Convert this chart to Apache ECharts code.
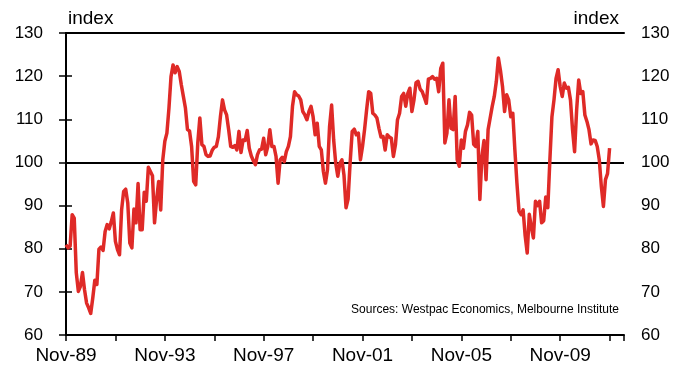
<!DOCTYPE html>
<html>
<head>
<meta charset="utf-8">
<script src="https://cdn.jsdelivr.net/npm/echarts@6/dist/echarts.min.js"></script>
<style>html,body{margin:0;padding:0;background:#fff;}#c{width:675px;height:367px;}</style>
</head>
<body>
<div id="c"></div>
<script>
// Monthly index values starting Nov-1989
const startLabel = 'Nov-89';
const values = [
80.9,80.2,80.6,87.9,87.1,74.4,70.1,71.3,74.5,70.5,67.4,66.3,65.0,68.6,72.7,71.7,79.9,80.4,79.6,84.0,
85.6,84.6,86.3,88.3,81.7,79.8,78.6,89.0,93.3,93.8,90.6,81.3,80.2,89.2,86.0,95.1,84.4,84.4,93.1,91.0,
98.9,97.9,96.9,86.0,91.4,95.6,89.0,100.6,104.9,106.8,112.6,119.9,122.6,120.8,122.2,121.1,118.0,115.3,112.6,107.6,
107.3,103.7,95.6,94.8,104.5,110.3,104.1,103.7,101.8,101.4,101.5,102.8,103.5,103.7,105.9,110.6,114.5,112.2,111.0,107.6,
103.7,103.5,103.9,102.9,107.2,102.3,105.2,105.1,107.4,103.3,101.5,100.4,99.5,101.8,102.9,103.1,105.6,101.8,103.7,107.6,
103.7,103.7,101.4,95.2,100.6,101.2,100.2,102.5,103.7,106.0,113.0,116.4,115.7,115.4,114.5,111.8,111.0,109.9,111.8,113.0,
110.6,106.4,109.1,103.7,102.9,97.9,95.2,98.3,108.3,113.3,105.2,99.8,96.8,99.8,100.6,97.1,89.5,91.5,100.0,107.2,
107.7,106.4,106.8,100.6,103.7,107.6,112.2,116.4,116.0,111.4,111.0,110.3,107.9,105.9,106.0,102.9,106.4,105.9,105.6,101.4,
104.1,109.9,111.4,115.3,116.0,113.0,116.0,117.2,111.8,114.5,118.5,118.8,117.0,116.4,115.1,113.7,119.3,119.5,119.9,119.3,
119.5,116.4,121.8,123.0,104.5,106.8,114.5,107.9,107.6,115.3,100.6,99.1,105.2,103.3,107.2,108.7,111.6,111.0,104.2,103.7,
107.2,91.4,101.4,105.1,96.0,107.6,110.3,113.0,115.3,118.8,124.2,121.3,117.6,111.8,115.7,114.5,110.6,111.4,102.9,95.2,
88.7,87.9,89.0,83.0,79.0,88.0,85.0,82.5,91.0,90.0,91.0,86.0,86.5,92.0,89.5,100.6,110.6,114.5,119.5,121.5,
117.6,115.3,118.4,117.2,117.4,114.5,107.6,102.5,112.2,119.1,116.0,116.4,111.0,109.5,107.6,104.3,105.2,105.1,103.7,100.6,
94.4,89.8,96.0,97.4,103.3
];
const xTickLabels = ['Nov-89','Nov-93','Nov-97','Nov-01','Nov-05','Nov-09'];
const monthsPerLabel = 48;
const monthsPerTick = 24;
const xMaxMonths = 271;
const yMin = 60, yMax = 130, yStep = 10;
const baseline = 100;
const unitName = 'index';
const sourceText = 'Sources: Westpac Economics, Melbourne Institute';

const seriesData = values.map((v, i) => [i, v]);
const FONT = "'Liberation Sans', Arial, sans-serif";
const chart = echarts.init(document.getElementById('c'), null, {renderer: 'canvas'});

const yAxisCommon = {
  type: 'value', min: yMin, max: yMax, interval: yStep,
  axisLine: {show: true, lineStyle: {color: '#000', width: 2}},
  axisTick: {show: true, inside: false, length: 7, lineStyle: {color: '#000', width: 1.5}},
  splitLine: {show: false}
};

chart.setOption({
  animation: false,
  backgroundColor: '#fff',
  grid: {left: 66, right: 51, top: 33, bottom: 32, containLabel: false, outerBoundsMode: 'none'},
  xAxis: [{
    type: 'value', min: 0, max: xMaxMonths, interval: monthsPerTick,
    axisLine: {show: true, onZero: false, lineStyle: {color: '#000', width: 2}},
    axisTick: {show: true, inside: false, length: 6, lineStyle: {color: '#000', width: 1.5}},
    splitLine: {show: false},
    axisLabel: {
      show: true, margin: 11, color: '#000', fontFamily: FONT, fontSize: 19,
      formatter: function (v) {
        const r = Math.round(v);
        return (r % monthsPerLabel === 0 && r / monthsPerLabel < xTickLabels.length) ? xTickLabels[r / monthsPerLabel] : '';
      }
    }
  }, {
    type: 'value', position: 'top', min: 0, max: xMaxMonths,
    axisLine: {show: true, onZero: false, lineStyle: {color: '#000', width: 2}},
    axisTick: {show: false}, axisLabel: {show: false}, splitLine: {show: false}
  }],
  yAxis: [Object.assign({}, yAxisCommon, {
    position: 'left',
    axisLabel: {show: true, margin: 23, color: '#000', fontFamily: FONT, fontSize: 17}
  }), Object.assign({}, yAxisCommon, {
    position: 'right',
    axisTick: {show: true, inside: false, length: 6, lineStyle: {color: '#000', width: 1.5}},
    axisLabel: {show: true, margin: 17, color: '#000', fontFamily: FONT, fontSize: 17}
  })],
  series: [{
    type: 'line', data: seriesData, showSymbol: false, symbol: 'none',
    lineStyle: {color: '#df2a27', width: 3.5, join: 'round'},
    z: 3,
    markLine: {
      silent: true, symbol: ['none', 'none'], label: {show: false},
      lineStyle: {color: '#000', width: 2, type: 'solid'},
      data: [{yAxis: baseline}], z: 2
    }
  }],
  graphic: [{
    type: 'text', x: 68, y: 19,
    style: {text: unitName, fill: '#000', font: "19px 'Liberation Sans', Arial, sans-serif", align: 'left', verticalAlign: 'middle'}
  }, {
    type: 'text', x: 619, y: 19,
    style: {text: unitName, fill: '#000', font: "19px 'Liberation Sans', Arial, sans-serif", align: 'right', verticalAlign: 'middle'}
  }, {
    type: 'text', x: 619, y: 310,
    style: {text: sourceText, fill: '#000', font: "12px 'Liberation Sans', Arial, sans-serif", align: 'right', verticalAlign: 'middle'}
  }]
});
</script>
</body>
</html>
